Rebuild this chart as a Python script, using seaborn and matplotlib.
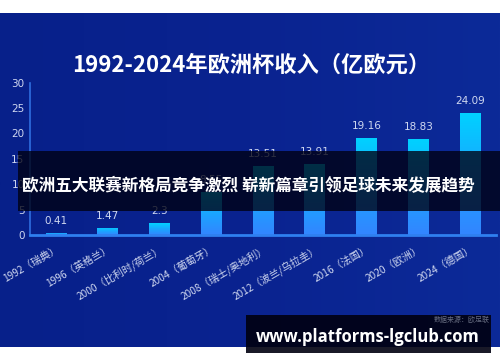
import numpy as np
import pandas as pd
import matplotlib
matplotlib.use("Agg")
import matplotlib.pyplot as plt
import seaborn as sns
from matplotlib.patches import Rectangle
from matplotlib.colors import LinearSegmentedColormap

# ---- data ----
categories = ["1992（瑞典）", "1996（英格兰）", "2000（比利时/荷兰）", "2004（葡萄牙）",
              "2008（瑞士/奥地利）", "2012（波兰/乌拉圭）", "2016（法国）", "2020（欧洲）", "2024（德国）"]
revenue = [0.41, 1.47, 2.3, 8.55, 13.51, 13.91, 19.16, 18.83, 24.09]
value_labels = ["0.41", "1.47", "2.3", "8.55", "13.51", "13.91", "19.16", "18.83", "24.09"]
yticks = [0, 5, 10, 15, 20, 25, 30]

title = "1992-2024年欧洲杯收入（亿欧元）"
banner = "欧洲五大联赛新格局竞争激烈 崭新篇章引领足球未来发展趋势"
source = "数据来源：欧足联"
watermark = "www.platforms-lgclub.com"

sns.set_theme(style="white")
plt.rcParams['font.family'] = ['Noto Sans CJK SC', 'DejaVu Sans']
plt.rcParams['axes.unicode_minus'] = False

W, H = 500, 362
fig = plt.figure(figsize=(W / 100, H / 100), dpi=100, facecolor="white")

def fx(px):
    return px / W

def fy(py):
    return 1 - py / H

# navy background band
bg_ax = fig.add_axes([0, fy(347), 1, fy(13) - fy(347)], zorder=0)
bg_ax.axis("off")
grad = np.linspace(0, 1, 256)[None, :]
bg_cmap = LinearSegmentedColormap.from_list("bg", ["#07208a", "#0a2390", "#0c2a98"])
bg_ax.imshow(grad, aspect="auto", cmap=bg_cmap, extent=[0, 1, 0, 1])
bg_ax.set_xlim(0, 1)
bg_ax.set_ylim(0, 1)

# main axes
ax = fig.add_axes([fx(30), fy(235), fx(496) - fx(30), fy(82.6) - fy(235)], zorder=1)
ax.set_facecolor("none")
df = pd.DataFrame({"cat": categories, "val": revenue})
sns.barplot(data=df, x="cat", y="val", ax=ax, width=0.4, color="#1aa8ff",
            edgecolor="none", saturation=1)
ax.set_xlim(-0.5, len(categories) - 0.5)
ax.set_ylim(0, 30)

# gradient fill for bars
bar_cmap = LinearSegmentedColormap.from_list("bar", ["#3385ff", "#1aa6ff", "#00d2ff"])
gimg = np.linspace(0, 1, 256)[:, None]
for p in list(ax.patches):
    x0, w, h = p.get_x(), p.get_width(), p.get_height()
    im = ax.imshow(gimg, aspect="auto", cmap=bar_cmap, origin="lower",
                   extent=[x0, x0 + w, 0, h], zorder=2)
    im.set_clip_path(p)
    p.set_facecolor("none")
ax.set_xlim(-0.5, len(categories) - 0.5)
ax.set_ylim(0, 30)

for i, (v, lab) in enumerate(zip(revenue, value_labels)):
    ax.annotate(lab, (i, v), xytext=(0, 5), textcoords="offset points",
                ha="center", va="bottom", fontsize=7.5, color="#d0d8f0",
                family=["DejaVu Sans"], zorder=3)

ax.set_yticks(yticks)
ax.set_yticklabels([str(t) for t in yticks], fontsize=7.5, color="#d0d8f0",
                   family=["DejaVu Sans"])
ax.set_xticks(range(len(categories)))
ax.set_xticklabels(categories, rotation=30, ha="right", rotation_mode="anchor",
                   fontsize=7.3, color="#d0d8f0")
ax.tick_params(axis="both", length=0, pad=4)
ax.tick_params(axis="x", pad=6)
ax.set_xlabel("")
ax.set_ylabel("")
for s in ["top", "right"]:
    ax.spines[s].set_visible(False)
ax.spines["left"].set_color("#2f6fe0")
ax.spines["left"].set_linewidth(1.2)
ax.spines["bottom"].set_color("#2f80f0")
ax.spines["bottom"].set_linewidth(2)
ax.grid(False)

# title
fig.text(fx(251), fy(65), title, ha="center", va="center", fontsize=16,
         fontweight="bold", color="white", zorder=5)

# dark banner overlay
fig.patches.append(Rectangle((fx(18), fy(211)), 1 - fx(18), fy(151) - fy(211),
                             transform=fig.transFigure, facecolor="#000010",
                             alpha=0.78, edgecolor="none", zorder=10))
fig.text(fx(248), fy(186), banner, ha="center", va="center", fontsize=12,
         fontweight="bold", color="white", zorder=11)

# watermark box
fig.patches.append(Rectangle((fx(246), fy(353)), fx(491) - fx(246), fy(315) - fy(353),
                             transform=fig.transFigure, facecolor="#000010",
                             alpha=0.9, edgecolor="none", zorder=10))
fig.text(fx(490), fy(320), source, ha="right", va="center", fontsize=5,
         color="#666c80", zorder=11)
fig.text(fx(368), fy(337), watermark, ha="center", va="center", fontsize=12,
         fontweight="bold", color="white", family=["Open Sans", "DejaVu Sans"], zorder=11)

fig.savefig("out.png", dpi=100, facecolor="white")
